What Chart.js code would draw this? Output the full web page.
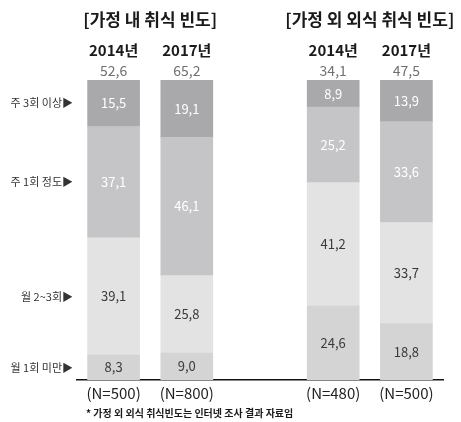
<!DOCTYPE html>
<html>
<head>
<meta charset="utf-8">
<script src="https://cdn.jsdelivr.net/npm/chart.js@4"></script>
<style>
  body { margin: 0; background: #fff; }
  #wrap { width: 461px; height: 422px; }
</style>
</head>
<body>
<div id="wrap"><canvas id="freqChart" width="461" height="422"></canvas></div>
<script>
// categories (middle slot is the gap between the two groups)
const years = ['2014년', '2017년', '', '2014년', '2017년'];
const sampleLabels = ['(N=500)', '(N=800)', '', '(N=480)', '(N=500)'];
const groupTitles = ['[가정 내 취식 빈도]', '[가정 외 외식 취식 빈도]'];
const freqLabels = ['월 1회 미만▶', '월 2~3회▶', '주 1회 정도▶', '주 3회 이상▶'];

// values (%)
const totals = [52.6, 65.2, null, 34.1, 47.5];
const lessThanMonthly = [8.3, 9.0, null, 24.6, 18.8];
const monthly2to3 = [39.1, 25.8, null, 41.2, 33.7];
const weekly1 = [37.1, 46.1, null, 25.2, 33.6];
const weekly3plus = [15.5, 19.1, null, 8.9, 13.9];

const FONT = "'Noto Sans CJK KR', 'Noto Sans', sans-serif";
const fmt = v => v.toFixed(1).replace('.', ',');

const segColors = ['#d4d4d4', '#e3e3e3', '#c5c5c7', '#a9a9ab'];
const segText = ['#3a3a3a', '#3a3a3a', '#ffffff', '#ffffff'];

const valueLabels = {
    id: 'valueLabels',
    afterDatasetsDraw(chart) {
        const ctx = chart.ctx;
        ctx.save();
        ctx.font = '13px ' + FONT;
        ctx.textAlign = 'center';
        ctx.textBaseline = 'middle';
        chart.data.datasets.forEach((ds, i) => {
            const meta = chart.getDatasetMeta(i);
            meta.data.forEach((el, j) => {
                const v = ds.data[j];
                if (v == null) return;
                ctx.fillStyle = segText[i];
                ctx.fillText(fmt(v), el.x, (el.y + el.base) / 2);
            });
        });
        ctx.restore();
    }
};

const headers = {
    id: 'headers',
    afterDraw(chart) {
        const ctx = chart.ctx;
        const x = chart.scales.x;
        ctx.save();
        ctx.textAlign = 'center';
        ctx.textBaseline = 'middle';
        // group titles
        ctx.fillStyle = '#1a1a1a';
        ctx.font = 'bold 17px ' + FONT;
        ctx.fillText(groupTitles[0], (x.getPixelForValue(0) + x.getPixelForValue(1)) / 2, 20);
        ctx.fillText(groupTitles[1], (x.getPixelForValue(3) + x.getPixelForValue(4)) / 2, 20);
        // years and totals
        years.forEach((y, i) => {
            if (!y) return;
            const px = x.getPixelForValue(i);
            ctx.fillStyle = '#1a1a1a';
            ctx.font = 'bold 15px ' + FONT;
            ctx.fillText(y, px, 50);
            ctx.fillStyle = '#707070';
            ctx.font = '14px ' + FONT;
            ctx.fillText(fmt(totals[i]), px, 71);
        });
        // footnote
        ctx.textAlign = 'left';
        ctx.fillStyle = '#1a1a1a';
        ctx.font = 'bold 10px ' + FONT;
        ctx.fillText('* 가정 외 외식 취식빈도는 인터넷 조사 결과 자료임', 86, 413);
        ctx.restore();
    }
};

const ds = (label, data, i) => ({
    label: label,
    data: data,
    backgroundColor: segColors[i],
    barThickness: 52,
    borderWidth: 0
});

new Chart(document.getElementById('freqChart'), {
    type: 'bar',
    data: {
        labels: sampleLabels,
        datasets: [
            ds(freqLabels[0], lessThanMonthly, 0),
            ds(freqLabels[1], monthly2to3, 1),
            ds(freqLabels[2], weekly1, 2),
            ds(freqLabels[3], weekly3plus, 3)
        ]
    },
    options: {
        responsive: false,
        animation: false,
        layout: { padding: { top: 80, right: 18, bottom: 0, left: 0 } },
        plugins: {
            legend: { display: false },
            tooltip: { enabled: false }
        },
        scales: {
            x: {
                stacked: true,
                grid: { display: false, drawTicks: false },
                border: { display: true, color: '#111', width: 1.5 },
                ticks: {
                    color: '#222',
                    padding: 4,
                    font: { family: FONT, size: 15 },
                    maxRotation: 0,
                    autoSkip: false
                },
                afterFit(scale) { scale.height = 42; }
            },
            y: {
                stacked: true,
                min: 0,
                max: 100,
                grid: { display: false, drawTicks: false },
                border: { display: false },
                afterBuildTicks(scale) {
                    // place the category names at the centre of each segment of the first bar
                    let cum = 0;
                    scale.ticks = scale.chart.data.datasets.map(d => {
                        const v = d.data[0];
                        const t = { value: cum + v / 2 };
                        cum += v;
                        return t;
                    });
                },
                ticks: {
                    color: '#333',
                    padding: 4,
                    font: { family: FONT, size: 11 },
                    callback: (val, idx) => freqLabels[idx]
                },
                afterFit(scale) { scale.width = 77; }
            }
        }
    },
    plugins: [valueLabels, headers]
});
</script>
</body>
</html>
